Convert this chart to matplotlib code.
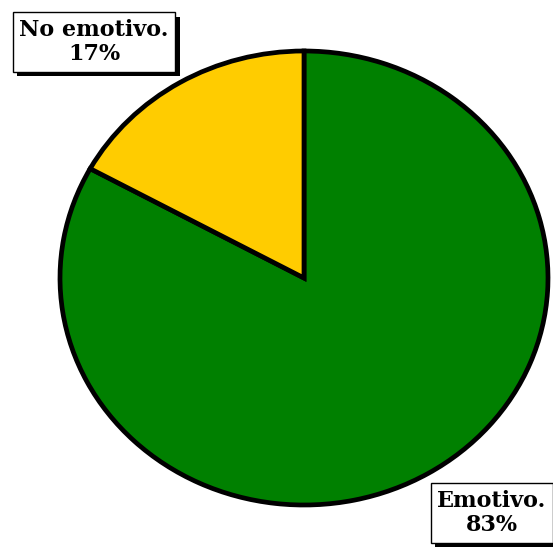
import matplotlib as mpl
mpl.use('Agg')
import matplotlib.pyplot as plt
import matplotlib.patheffects as pe

labels = ['Emotivo.', 'No emotivo.']
values = [83, 17]
colors = ['#008000', '#FFCC00']

W, H = 553, 548
fig = plt.figure(figsize=(W / 100, H / 100), dpi=100)

# pie is slightly stretched (ellipse), so axes without equal aspect
cx, cy, rx, ry = 304, 278, 244, 227
ax = fig.add_axes([(cx - rx) / W, (H - cy - ry) / H, 2 * rx / W, 2 * ry / H])
ax.pie(values, colors=colors, startangle=90, counterclock=False,
       wedgeprops=dict(edgecolor='black', linewidth=3.4))
ax.set_xlim(-1, 1)
ax.set_ylim(-1, 1)
ax.set_aspect('auto')
ax.axis('off')

label_pos = [(492, 513), (94, 42)]
for lab, v, (x, y) in zip(labels, values, label_pos):
    t = fig.text(x / W, 1 - y / H, f'{lab}\n{v}%', ha='center', va='center',
                 family='DejaVu Serif', weight='bold', fontsize=16,
                 linespacing=1.1,
                 bbox=dict(boxstyle='square,pad=0.3', fc='white', ec='black', lw=1))
    t.get_bbox_patch().set_path_effects([
        pe.SimplePatchShadow(offset=(3, -3), shadow_rgbFace='black', alpha=1),
        pe.Normal()])

fig.savefig('out.png', dpi=100)
